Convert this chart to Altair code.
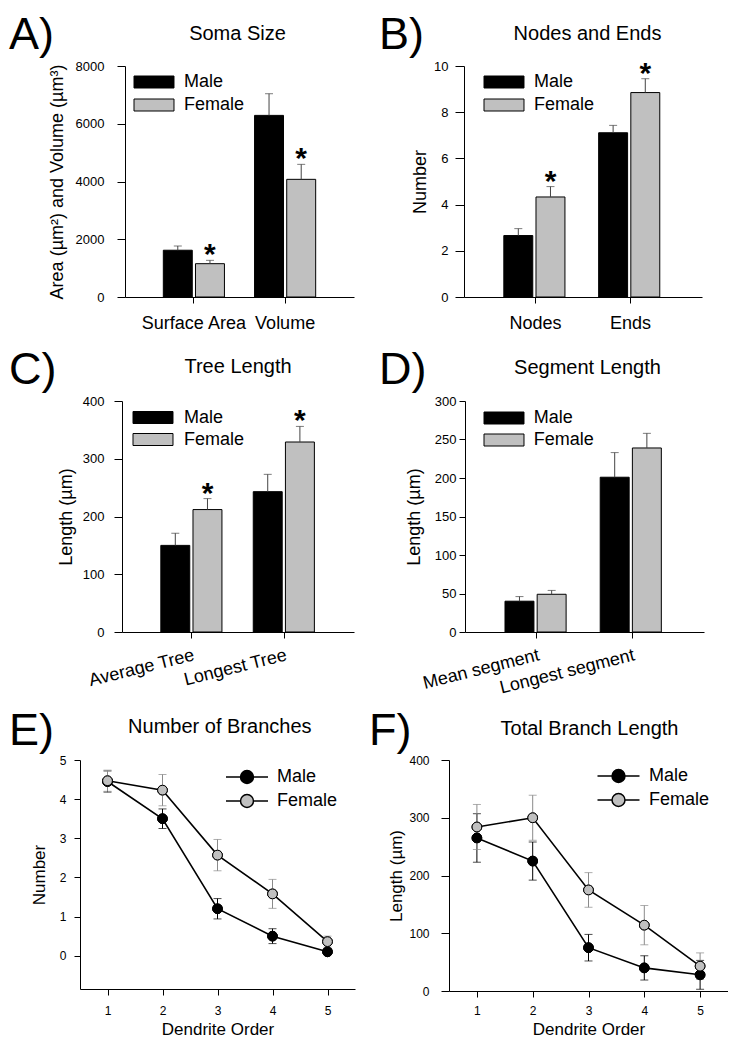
import altair as alt
import pandas as pd

FONT = "Liberation Sans"
SEXES = ["Male", "Female"]
BAR_FILLS = ["#000000", "#c0c0c0"]
POINT_FILLS = ["#000000", "#c0c0c0"]
LINE_ERR_COLORS = ["#000000", "#8a8a8a"]
BAR_ERR_COLOR = "#444444"

letters = ["A)", "B)", "C)", "D)", "E)", "F)"]
titles = ["Soma Size", "Nodes and Ends", "Tree Length", "Segment Length",
          "Number of Branches", "Total Branch Length"]

# Panel A - soma size
a_cats = ["Surface Area", "Volume"]
a_male = [1620, 6290]
a_male_err = [146, 750]
a_female = [1154, 4075]
a_female_err = [116, 519]
a_stars = [True, True]

# Panel B - nodes and ends
b_cats = ["Nodes", "Ends"]
b_male = [2.66, 7.11]
b_male_err = [0.30, 0.32]
b_female = [4.33, 8.85]
b_female_err = [0.45, 0.60]
b_stars = [True, True]

# Panel C - tree length
c_cats = ["Average Tree", "Longest Tree"]
c_male = [150, 243]
c_male_err = [21, 30]
c_female = [212, 329]
c_female_err = [19, 27]
c_stars = [True, True]

# Panel D - segment length
d_cats = ["Mean segment", "Longest segment"]
d_male = [40, 201]
d_male_err = [6, 32]
d_female = [49, 239]
d_female_err = [5, 19]
d_stars = [False, False]

# Panels E, F - by dendrite order
orders = [1, 2, 3, 4, 5]
e_male = [4.45, 3.50, 1.20, 0.50, 0.10]
e_male_err = [0.27, 0.25, 0.26, 0.19, 0.05]
e_female = [4.47, 4.23, 2.57, 1.58, 0.36]
e_female_err = [0.27, 0.40, 0.40, 0.37, 0.14]

f_male = [265, 225, 75, 40, 28]
f_male_err = [42, 33, 23, 21, 25]
f_female = [284, 300, 175, 114, 43]
f_female_err = [39, 39, 30, 34, 23]

BAR_SYMBOL = "M-3.333,-1H3.333V1H-3.333Z"
LINE_SYMBOL = ("M-3.5,0H-1.08A1.08,1.08,0,1,1,1.08,0H3.5"
               "M1.08,0A1.08,1.08,0,1,1,-1.08,0")


def text_layer(txt, x, y, size, align="left"):
    return alt.Chart(pd.DataFrame({"t": [txt]})).mark_text(
        align=align, baseline="alphabetic", fontSize=size, font=FONT, color="black"
    ).encode(text="t:N", x=alt.value(x), y=alt.value(y))


def make_legend(leg, symbol, stroke_w):
    lx, ly, loff, rpad = leg
    return alt.Legend(
        title=None, orient="none", legendX=lx, legendY=ly, padding=0,
        symbolType=symbol, symbolSize=144, symbolStrokeColor="black",
        symbolStrokeWidth=stroke_w, symbolOpacity=1,
        labelFont=FONT, labelFontSize=18, labelColor="black",
        labelOffset=loff, rowPadding=rpad,
    )


def bar_panel(i, cats, male, male_err, female, female_err, stars, yticks, ytitle,
              w, h, ytitle_x, ylabel_pad, ytick_size, xangle, xlabel_pad,
              leg, letter_pos, title_pos):
    n = len(cats)
    df = pd.DataFrame({
        "cat": cats + cats,
        "sex": ["Male"] * n + ["Female"] * n,
        "val": male + female,
        "top": [m + e for m, e in zip(male, male_err)]
               + [f + e for f, e in zip(female, female_err)],
        "star": [False] * n + stars,
    })
    xaxis = alt.Axis(
        title=None, labelAngle=xangle,
        labelAlign="center" if xangle == 0 else "right",
        labelBaseline="top", labelFontSize=18, labelPadding=xlabel_pad,
        tickSize=6,
    )
    x = alt.X("cat:N", sort=cats, axis=xaxis,
              scale=alt.Scale(paddingInner=0.33, paddingOuter=0.42))
    xo = alt.XOffset("sex:N", sort=SEXES,
                     scale=alt.Scale(domain=SEXES, paddingInner=0.1, paddingOuter=0))
    ysc = alt.Scale(domain=[0, yticks[-1]], nice=False)
    yaxis = alt.Axis(
        values=yticks, format="d", title=ytitle, titleX=ytitle_x, titleY=h / 2,
        titleBaseline="middle", titleAlign="center", titleFontSize=18,
        labelFontSize=13, labelPadding=ylabel_pad, tickSize=ytick_size,
    )
    base = alt.Chart(df)
    bars = base.mark_bar(stroke="black", strokeWidth=1).encode(
        x=x, xOffset=xo,
        y=alt.Y("val:Q", scale=ysc, axis=yaxis),
        fill=alt.Fill("sex:N", sort=SEXES,
                      scale=alt.Scale(domain=SEXES, range=BAR_FILLS),
                      legend=make_legend(leg, BAR_SYMBOL, 1)),
    )
    errs = base.mark_rule(color=BAR_ERR_COLOR, strokeWidth=1).encode(
        x=x, xOffset=xo, y=alt.Y("val:Q", scale=ysc, axis=yaxis), y2="top:Q")
    caps = base.mark_tick(color=BAR_ERR_COLOR, size=8, thickness=1,
                          orient="horizontal").encode(
        x=x, xOffset=xo, y=alt.Y("top:Q", scale=ysc, axis=yaxis))
    star = base.transform_filter(alt.datum.star).mark_text(
        text="*", fontSize=30, fontWeight="bold", font=FONT, baseline="alphabetic",
        dy=4, color="black").encode(
        x=x, xOffset=xo, y=alt.Y("top:Q", scale=ysc, axis=yaxis))
    lx, ly, ls = letter_pos
    tx, ty = title_pos
    return alt.layer(
        bars, errs, caps, star,
        text_layer(letters[i], lx, ly, ls),
        text_layer(titles[i], tx, ty, 20, align="center"),
    ).properties(width=w, height=h)


def line_panel(i, male, male_err, female, female_err, ydomain, yticks, ytitle,
               w, h, ytitle_x, ylabel_pad, ytick_size, xlabel_pad,
               leg, letter_pos, title_pos):
    n = len(orders)
    vals = male + female
    errs_ = male_err + female_err
    df = pd.DataFrame({
        "order": orders + orders,
        "sex": ["Male"] * n + ["Female"] * n,
        "val": vals,
        "lo": [v - e for v, e in zip(vals, errs_)],
        "hi": [v + e for v, e in zip(vals, errs_)],
    })
    xaxis = alt.Axis(values=orders, format="d", title="Dendrite Order",
                     titleFontSize=17, titlePadding=5, labelFontSize=12,
                     tickSize=6, labelPadding=xlabel_pad)
    x = alt.X("order:Q", scale=alt.Scale(domain=[0.5, 5.5], nice=False, zero=False),
              axis=xaxis)
    ysc = alt.Scale(domain=ydomain, nice=False, zero=False)
    yaxis = alt.Axis(
        values=yticks, format="d", title=ytitle, titleX=ytitle_x, titleY=h / 2,
        titleBaseline="middle", titleAlign="center", titleFontSize=17,
        labelFontSize=12, labelPadding=ylabel_pad, tickSize=ytick_size,
    )
    base = alt.Chart(df)
    layers = []
    for s, col in zip(SEXES, LINE_ERR_COLORS):
        sub = base.transform_filter(alt.datum.sex == s)
        layers.append(sub.mark_rule(color=col, strokeWidth=1).encode(
            x=x, y=alt.Y("lo:Q", scale=ysc, axis=yaxis), y2="hi:Q"))
        layers.append(sub.mark_tick(color=col, orient="horizontal", size=8,
                                    thickness=1).encode(
            x=x, y=alt.Y("hi:Q", scale=ysc, axis=yaxis)))
        layers.append(sub.mark_tick(color=col, orient="horizontal", size=8,
                                    thickness=1).encode(
            x=x, y=alt.Y("lo:Q", scale=ysc, axis=yaxis)))
    lines = base.mark_line(color="black", strokeWidth=1.6).encode(
        x=x, y=alt.Y("val:Q", scale=ysc, axis=yaxis), detail="sex:N")
    pts = base.mark_circle(size=95, opacity=1, stroke="black", strokeWidth=1).encode(
        x=x, y=alt.Y("val:Q", scale=ysc, axis=yaxis),
        fill=alt.Fill("sex:N", sort=SEXES,
                      scale=alt.Scale(domain=SEXES, range=POINT_FILLS),
                      legend=make_legend(leg, LINE_SYMBOL, 1.5)),
    )
    lx, ly, ls = letter_pos
    tx, ty = title_pos
    return alt.layer(
        pts, *layers, lines, pts,
        text_layer(letters[i], lx, ly, ls),
        text_layer(titles[i], tx, ty, 20, align="center"),
    ).properties(width=w, height=h)


def indep(c):
    return c.resolve_scale(fill="independent").resolve_legend(fill="independent")


def spacer():
    return alt.Chart(pd.DataFrame({"t": [""]})).mark_text().encode(
        text="t:N").properties(width=1, height=1)


def row(p1, p2, gap):
    inner = indep(alt.hconcat(p1, p2, spacing=gap))
    return indep(alt.hconcat(spacer(), inner, spacing=0))


pA = bar_panel(0, a_cats, a_male, a_male_err, a_female, a_female_err, a_stars,
               [0, 2000, 4000, 6000, 8000], "Area (µm²) and Volume (µm³)",
               229, 231, -68, 13, 8, 0, 11, (20, 7, 21, 5), (-116, -17, 45), (112.5, -26))
pB = bar_panel(1, b_cats, b_male, b_male_err, b_female, b_female_err, b_stars,
               [0, 2, 4, 6, 8, 10], "Number",
               238, 231, -44, 7, 9, 0, 11, (31, 7, 21, 5), (-85, -17, 45), (123.5, -26))
pC = bar_panel(2, c_cats, c_male, c_male_err, c_female, c_female_err, c_stars,
               [0, 100, 200, 300, 400], "Length (µm)",
               232, 231, -56, 10, 8, -14, 8, (22, 7.5, 22, 4), (-113, -17, 45), (116, -28))
pD = bar_panel(3, d_cats, d_male, d_male_err, d_female, d_female_err, d_stars,
               [0, 50, 100, 150, 200, 250, 300], "Length (µm)",
               239, 231, -51, 3, 6, -14, 8, (30, 8, 20.7, 4), (-86, -17, 45), (122.5, -27))
pE = line_panel(4, e_male, e_male_err, e_female, e_female_err, [-0.85, 5],
                [0, 1, 2, 3, 4, 5], "Number",
                275, 229, -41, 8, 6, 10, (158, 8, 21, 4), (-71, -15, 45), (139.8, -27))
pF = line_panel(5, f_male, f_male_err, f_female, f_female_err, [0, 400],
                [0, 100, 200, 300, 400], "Length (µm)",
                279, 231, -53, 12, 8, 8, (160.5, 7, 21.5, 4), (-80, -15, 45), (140.5, -25))

top_rows = indep(alt.vconcat(row(pA, pB, 25), row(pC, pD, 25), spacing=16))
chart = indep(alt.vconcat(top_rows, row(pE, pF, 14), spacing=12)).properties(
    padding={"top": 5, "left": 0, "right": 0, "bottom": 0}, background="white"
).configure_view(
    stroke=None
).configure_axis(
    labelFont=FONT, titleFont=FONT, labelColor="black", titleColor="black",
    domainColor="black", tickColor="black", titleFontWeight="normal",
    grid=False, domainWidth=1, tickWidth=1,
)

chart.save("out.html", embed_options={"renderer": "svg", "actions": False})
